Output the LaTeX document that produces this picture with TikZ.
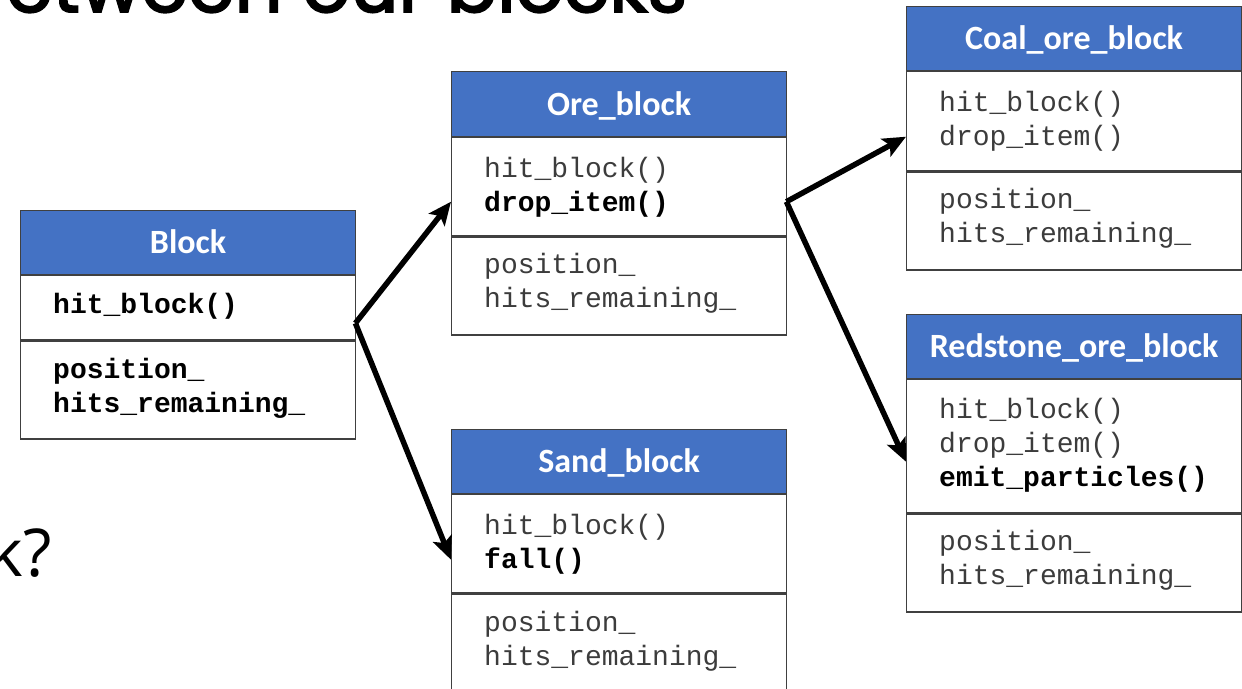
\documentclass[tikz,border=0pt]{standalone}
\usepackage{fontspec}
\usetikzlibrary{arrows.meta}
\newfontfamily\hdfont{Carlito}[BoldFont={Carlito Bold}]
\newfontfamily\codefont{Liberation Mono}
\newfontfamily\titlefont{Poppins}[FakeBold=2.5]
\newfontfamily\bodyfont{Open Sans}
\definecolor{hdblue}{HTML}{4472C4}
\definecolor{edge}{HTML}{404040}
\definecolor{codegray}{HTML}{3C3C3C}
\begin{document}
\begin{tikzpicture}[x=1pt,y=-1pt,
  hd/.style={fill=hdblue, draw=edge, line width=1.2pt, minimum width=335pt,
    minimum height=#1, inner sep=0pt, text=white, anchor=north west,
    font=\hdfont\bfseries\fontsize{34}{40}\selectfont, text height=21.9pt, text depth=0pt},
  comp/.style={draw=edge, line width=1.2pt, fill=white, minimum width=335pt,
    minimum height=#1, inner sep=0pt, anchor=north west},
  whole/.style={minimum width=335pt, minimum height=#1, inner sep=0pt, anchor=north west},
  ml/.style={anchor=base west, inner sep=0pt, text=codegray,
    font=\codefont\fontsize{28}{34}\selectfont},
  inherit/.style={line width=5.5pt, -{Stealth[length=23pt,width=20pt,inset=5pt]}}]
\useasboundingbox (0,0) rectangle (1242,688);
\clip (0,0) rectangle (1242,688);

% slide text around the diagram
\node[anchor=base west, inner sep=0pt, font=\titlefont\fontsize{75}{75}\selectfont] (title) at (6,12) {etween our blocks};
\node[anchor=base east, inner sep=0pt, font=\bodyfont\fontsize{66}{66}\selectfont] (question) at (52,576) {k?};

% Block
\node[whole=226pt] (block) at (20,210) {};
\node[hd=64pt] (blockH) at (20,210) {Block};
\node[comp=64pt] (blockM) at (blockH.south west) {};
\node[comp=98pt] (blockA) at (blockM.south west) {};
\node[ml, text=black] (blockM1) at (53,313) {\bfseries hit\_block()};
\node[ml, text=black] (blockA1) at (53,378) {\bfseries position\_};
\node[ml, text=black] (blockA2) at (53,412) {\bfseries hits\_remaining\_};

% Ore_block
\node[whole=261pt] (ore) at (451,71) {};
\node[hd=65pt] (oreH) at (451,71) {Ore\_block};
\node[comp=98pt] (oreM) at (oreH.south west) {};
\node[comp=98pt] (oreA) at (oreM.south west) {};
\node[ml] (oreM1) at (484,177) {hit\_block()};
\node[ml, text=black] (oreM2) at (484,211) {\bfseries drop\_item()};
\node[ml] (oreA1) at (484,273) {position\_};
\node[ml] (oreA2) at (484,307) {hits\_remaining\_};

% Sand_block
\node[whole=261pt] (sand) at (451,429) {};
\node[hd=64pt] (sandH) at (451,429) {Sand\_block};
\node[comp=98pt] (sandM) at (sandH.south west) {};
\node[comp=98pt] (sandA) at (sandM.south west) {};
\node[ml] (sandM1) at (484,534) {hit\_block()};
\node[ml, text=black] (sandM2) at (484,568) {\bfseries fall()};
\node[ml] (sandA1) at (484,631) {position\_};
\node[ml] (sandA2) at (484,665) {hits\_remaining\_};

% Coal_ore_block
\node[whole=261pt] (coal) at (906,6) {};
\node[hd=64pt] (coalH) at (906,6) {Coal\_ore\_block};
\node[comp=99pt] (coalM) at (coalH.south west) {};
\node[comp=98pt] (coalA) at (coalM.south west) {};
\node[ml] (coalM1) at (939,111) {hit\_block()};
\node[ml] (coalM2) at (939,145) {drop\_item()};
\node[ml] (coalA1) at (939,208) {position\_};
\node[ml] (coalA2) at (939,242) {hits\_remaining\_};

% Redstone_ore_block
\node[whole=295pt] (red) at (906,314) {};
\node[hd=64pt] (redH) at (906,314) {Redstone\_ore\_block};
\node[comp=133pt] (redM) at (redH.south west) {};
\node[comp=98pt] (redA) at (redM.south west) {};
\node[ml] (redM1) at (939,418) {hit\_block()};
\node[ml] (redM2) at (939,452) {drop\_item()};
\node[ml, text=black] (redM3) at (939,486) {\bfseries emit\_particles()};
\node[ml] (redA1) at (939,550) {position\_};
\node[ml] (redA2) at (939,584) {hits\_remaining\_};

% inheritance arrows
\draw[inherit] (block.east) -- (ore.west);
\draw[inherit] (block.east) -- (sand.west);
\draw[inherit] (ore.east) -- (coal.west);
\draw[inherit] (ore.east) -- (red.west);
\end{tikzpicture}
\end{document}
